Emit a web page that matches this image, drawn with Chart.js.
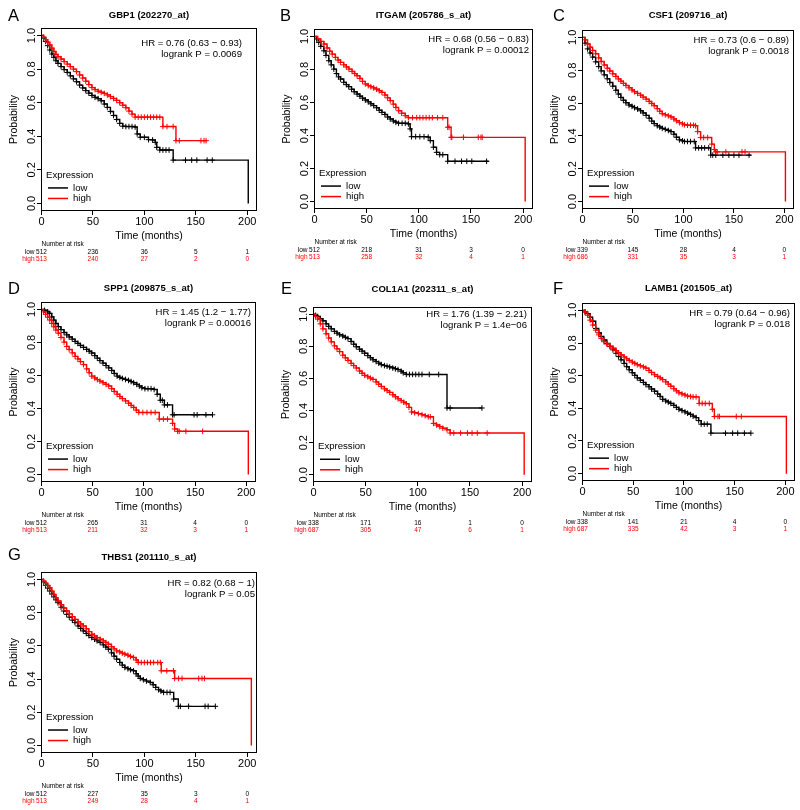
<!DOCTYPE html>
<html>
<head>
<meta charset="utf-8">
<script src="https://cdn.jsdelivr.net/npm/chart.js@4"></script>
<style>
  body { margin: 0; background: #fff; width: 800px; height: 810px; position: relative; overflow: hidden; }
  canvas { position: absolute; }
</style>
</head>
<body>
<script>
// axis ticks
const timeTicks = [0, 50, 100, 150, 200];
const probTicks = [0, 0.2, 0.4, 0.6, 0.8, 1.0];

// survival curves: [months, probability, censor mark]
const gbp1Low = [[0,1],[2,.985,1],[4,.965,1],[6,.94,1],[8,.914,1],[10,.89,1],[12,.87,1],[14,.85,1],[16,.834,1],[19,.815,1],[22,.797,1],[25,.78,1],[28,.76,1],[31,.742,1],[34,.725,1],[37,.705,1],[40,.688,1],[43,.672,1],[46,.657,1],[49,.643,1],[52,.632,1],[55,.624,1],[58,.612,1],[61,.592,1],[64,.572,1],[67,.548,1],[70,.524,1],[73,.5,1],[76,.477,1],[79,.46,1],[82,.458,1],[85,.458,1],[88,.458,1],[91,.455,1],[93,.414,1],[96,.394,1],[100,.394,1],[104,.38,1],[108,.378,1],[110.6,.364,1],[112,.334,1],[115,.318,1],[118,.318,1],[121,.318,1],[124,.318,1],[128,.258,1],[140,.258,1],[146,.258,1],[151,.258,1],[161,.258,1],[166,.258,1],[201,0]];
const gbp1High = [[0,1],[2,.99,1],[4,.975,1],[6,.96,1],[8,.944,1],[10,.925,1],[12,.905,1],[14,.888,1],[16,.874,1],[19,.86,1],[22,.845,1],[25,.83,1],[28,.815,1],[31,.8,1],[34,.785,1],[37,.765,1],[40,.747,1],[43,.728,1],[46,.708,1],[49,.69,1],[52,.678,1],[55,.668,1],[58,.662,1],[61,.655,1],[64,.646,1],[67,.636,1],[70,.625,1],[73,.614,1],[76,.6,1],[79,.585,1],[82,.57,1],[85,.55,1],[88,.532,1],[91,.514,1],[94,.514,1],[97,.514,1],[100,.514,1],[103,.514,1],[106,.514,1],[109,.514,1],[112,.514,1],[115,.514,1],[118,.458,1],[122,.458,1],[128,.458,1],[130.7,.374,1],[134,.374,1],[155,.374,1],[158,.374,1],[160,.374,1]];
const itgamLow = [[0,1],[2,.985,1],[4,.964,1],[6,.94,1],[9,.913,1],[11,.885,1],[13.7,.853,1],[16,.828,1],[18.5,.802,1],[21,.775,1],[23,.755,1],[25,.742,1],[28,.722,1],[30.5,.708,1],[32.8,.696,1],[35.5,.68,1],[38,.665,1],[40.8,.651,1],[43.5,.638,1],[46,.626,1],[48.7,.615,1],[51.5,.604,1],[54,.592,1],[56.7,.581,1],[59.5,.568,1],[62,.553,1],[64.6,.54,1],[67.5,.527,1],[70,.512,1],[72.6,.5,1],[75.5,.488,1],[78,.48,1],[80.6,.474,1],[84,.474,1],[87,.474,1],[90,.47,1],[91.7,.44,1],[93,.393,1],[97,.393,1],[101,.393,1],[105,.393,1],[109,.39,1],[111,.369,1],[114,.329,1],[117,.298,1],[120,.284,1],[123,.284,1],[127.7,.244,1],[134.7,.244,1],[141,.244,1],[146,.244,1],[150.8,.244,1],[165,.244,1],[167,.244]];
const itgamHigh = [[0,1],[3,.985,1],[6,.97,1],[9,.954,1],[12,.93,1],[14.5,.91,1],[17,.893,1],[20,.873,1],[22.5,.857,1],[25,.843,1],[28,.828,1],[30.5,.815,1],[33,.802,1],[36,.788,1],[38.5,.775,1],[40.8,.762,1],[43.5,.745,1],[46,.728,1],[48.7,.712,1],[51.5,.702,1],[54,.695,1],[56.7,.688,1],[59.5,.68,1],[62,.671,1],[64.6,.661,1],[67.5,.645,1],[70,.628,1],[72.6,.611,1],[75.5,.59,1],[78,.57,1],[80.6,.55,1],[83.5,.535,1],[87,.52,1],[90,.508,1],[94,.508,1],[98,.508,1],[101,.508,1],[104,.508,1],[107,.508,1],[110,.508,1],[113,.508,1],[118,.508,1],[123,.508,1],[127.7,.45,1],[129,.45,1],[131,.389,1],[131.7,.389,1],[142.8,.389,1],[157,.389,1],[159.6,.389,1],[160.8,.389,1],[202,0]];
const csf1Low = [[0,1],[2.5,.965,1],[5,.93,1],[7.5,.905,1],[10,.88,1],[13,.851,1],[16,.822,1],[18.5,.796,1],[21.5,.772,1],[24.5,.748,1],[27,.725,1],[30,.703,1],[33,.678,1],[35.5,.655,1],[38,.634,1],[40.5,.617,1],[43,.602,1],[46,.588,1],[49,.58,1],[51.5,.572,1],[54.5,.564,1],[57.5,.553,1],[60,.54,1],[63,.525,1],[66,.508,1],[68.5,.49,1],[71,.475,1],[74,.462,1],[76.5,.454,1],[79,.446,1],[82,.44,1],[85,.433,1],[87.6,.426,1],[90.5,.41,1],[93,.392,1],[96,.376,1],[99,.37,1],[101,.366,1],[104,.366,1],[107,.366,1],[110.7,.366,1],[112,.327,1],[115,.327,1],[118,.327,1],[121,.327,1],[125,.327,1],[127,.283,1],[129,.283,1],[132,.283,1],[139,.283,1],[145,.283,1],[150,.283,1],[155,.283,1],[165,.283,1],[167,.283]];
const csf1High = [[0,1],[2.5,.985,1],[5,.96,1],[7.5,.94,1],[10,.92,1],[13,.9,1],[16,.875,1],[18.5,.853,1],[21.5,.832,1],[24.5,.812,1],[27,.795,1],[30,.778,1],[33,.762,1],[35.5,.747,1],[38,.733,1],[40.5,.72,1],[43,.707,1],[46,.693,1],[49,.68,1],[51.5,.669,1],[54.5,.659,1],[57.5,.648,1],[60,.636,1],[63,.624,1],[66,.61,1],[68.5,.597,1],[71,.584,1],[74,.566,1],[76.5,.55,1],[79,.535,1],[82,.528,1],[85,.522,1],[87.6,.515,1],[90.5,.503,1],[93,.492,1],[96,.481,1],[99,.473,1],[101,.468,1],[104,.465,1],[107,.465,1],[110,.465,1],[112,.462,1],[114,.426,1],[117,.39,1],[120,.39,1],[124,.39,1],[128,.35,1],[130.6,.317,1],[132,.303,1],[133.5,.303,1],[142,.303,1],[158,.303,1],[161,.303,1],[201,0]];
const spp1Low = [[0,1],[3,.995,1],[6,.985,1],[8,.976,1],[10,.955,1],[12,.935,1],[14,.915,1],[16.4,.896,1],[19,.878,1],[22,.86,1],[24.6,.846,1],[27,.833,1],[30,.82,1],[32.8,.806,1],[35.5,.794,1],[38,.782,1],[41,.77,1],[44,.758,1],[46.5,.747,1],[49,.736,1],[52,.72,1],[54.5,.705,1],[57,.69,1],[60,.675,1],[63,.66,1],[65.6,.646,1],[68.5,.63,1],[71,.612,1],[73.8,.596,1],[76.5,.588,1],[79,.582,1],[82,.576,1],[85,.57,1],[87.5,.563,1],[90,.556,1],[93,.546,1],[95.5,.536,1],[98,.526,1],[101,.52,1],[104,.52,1],[107,.52,1],[110,.515,1],[113,.486,1],[116,.45,1],[118,.45,1],[120,.422,1],[123,.422,1],[128,.362,1],[129.5,.362,1],[149,.362,1],[152,.362,1],[160.6,.362,1],[167,.362,1]];
const spp1High = [[0,1],[2,.985,1],[4,.97,1],[6,.953,1],[8,.936,1],[10,.915,1],[12,.895,1],[14,.875,1],[16.4,.856,1],[19,.83,1],[22,.802,1],[24.6,.776,1],[27,.757,1],[30,.737,1],[32.8,.716,1],[35.5,.7,1],[38,.684,1],[41,.666,1],[44,.64,1],[46.5,.617,1],[49,.596,1],[52,.585,1],[54.5,.575,1],[57,.566,1],[60,.556,1],[63,.546,1],[65.6,.536,1],[68.5,.52,1],[71,.503,1],[73.8,.486,1],[76.5,.472,1],[79,.46,1],[82,.446,1],[85,.432,1],[87.5,.418,1],[90,.406,1],[92.5,.39,1],[95,.376,1],[99,.376,1],[103,.376,1],[107,.376,1],[111,.376,1],[115,.336,1],[119,.336,1],[123,.336,1],[128,.31,1],[130,.276,1],[133,.262,1],[134.5,.262,1],[141,.262,1],[157.4,.262,1],[202,0]];
const col1a1Low = [[0,1],[2,.993,1],[4,.986,1],[6.5,.972,1],[9,.959,1],[12,.94,1],[14.5,.924,1],[17,.909,1],[20,.893,1],[22.5,.882,1],[25,.872,1],[28,.864,1],[30.5,.856,1],[33,.848,1],[36,.83,1],[38.5,.813,1],[41,.797,1],[44,.782,1],[46.5,.77,1],[49,.757,1],[52,.742,1],[54.5,.729,1],[57,.716,1],[60,.705,1],[62.5,.695,1],[65,.686,1],[68,.68,1],[70.5,.676,1],[73,.671,1],[76,.665,1],[78.5,.66,1],[81,.655,1],[84,.645,1],[86,.635,1],[89,.625,1],[92,.625,1],[95,.625,1],[98,.625,1],[101,.625,1],[104,.625,1],[111,.625,1],[120,.625,1],[128,.416,1],[131,.416,1],[161.5,.416,1]];
const col1a1High = [[0,1],[2,.985,1],[4,.97,1],[6.5,.94,1],[9,.909,1],[12,.878,1],[14.5,.852,1],[17,.828,1],[20,.803,1],[22.5,.784,1],[25,.767,1],[28,.745,1],[30.5,.728,1],[33,.712,1],[36,.694,1],[38.5,.68,1],[41,.665,1],[44,.646,1],[46.5,.632,1],[49,.619,1],[52,.61,1],[54.5,.602,1],[57,.594,1],[60,.578,1],[62.5,.564,1],[65,.55,1],[68,.535,1],[70.5,.524,1],[73,.513,1],[76,.498,1],[78.5,.486,1],[81,.473,1],[84,.462,1],[86.5,.452,1],[89,.442,1],[91.5,.42,1],[94,.391,1],[97,.386,1],[100.5,.381,1],[104,.374,1],[107,.368,1],[110,.361,1],[112,.361,1],[115,.32,1],[118,.31,1],[121,.3,1],[124,.29,1],[128,.28,1],[131,.26,1],[134.5,.26,1],[141,.26,1],[147.6,.26,1],[152,.26,1],[157,.26,1],[166.5,.26,1],[202,0]];
const lamb1Low = [[0,1],[2.5,.99,1],[5,.98,1],[7.5,.958,1],[10,.933,1],[13,.889,1],[16,.862,1],[18.5,.84,1],[21,.818,1],[24,.797,1],[27,.778,1],[30,.758,1],[33,.737,1],[35.5,.717,1],[38,.697,1],[41,.675,1],[43.5,.655,1],[46,.636,1],[49,.618,1],[51.5,.602,1],[54,.586,1],[57,.572,1],[60,.558,1],[62.5,.545,1],[65.5,.532,1],[68,.518,1],[71,.505,1],[74,.488,1],[76.5,.472,1],[79,.455,1],[82,.445,1],[84.5,.438,1],[87,.43,1],[90,.418,1],[92.5,.406,1],[95,.394,1],[98,.386,1],[101,.378,1],[103.6,.37,1],[106.5,.362,1],[109,.352,1],[112,.343,1],[114.5,.325,1],[117,.303,1],[120,.303,1],[123,.303,1],[126.6,.248,1],[141,.248,1],[148,.248,1],[153,.248,1],[159.6,.248,1],[166,.248,1]];
const lamb1High = [[0,1],[2.5,.99,1],[5,.97,1],[7.5,.94,1],[10,.91,1],[13,.879,1],[16,.85,1],[18.5,.828,1],[21,.808,1],[24,.794,1],[27,.781,1],[30,.768,1],[33,.753,1],[35.5,.74,1],[38,.727,1],[41,.714,1],[43.5,.703,1],[46,.693,1],[49,.683,1],[51.5,.675,1],[54,.667,1],[57,.66,1],[60,.653,1],[62.5,.646,1],[65.5,.632,1],[68,.619,1],[71,.606,1],[74,.595,1],[76.5,.586,1],[79,.576,1],[82,.562,1],[84.5,.548,1],[87,.535,1],[90,.52,1],[92.5,.507,1],[95,.495,1],[98,.488,1],[101,.481,1],[103.6,.475,1],[106.5,.472,1],[109,.47,1],[112,.47,1],[115,.43,1],[118,.43,1],[121,.43,1],[125,.43,1],[128,.394,1],[130,.35,1],[133.5,.35,1],[135,.35,1],[151.6,.35,1],[156.6,.35,1],[201,0]];
const thbs1Low = [[0,1],[2,.985,1],[4,.965,1],[6,.948,1],[8,.93,1],[10,.912,1],[12,.895,1],[14,.877,1],[16,.86,1],[19,.833,1],[21.5,.81,1],[24.4,.79,1],[27,.773,1],[30,.755,1],[32.5,.74,1],[35.5,.72,1],[38,.705,1],[40.6,.69,1],[43.5,.675,1],[46,.662,1],[48.8,.65,1],[51.5,.64,1],[54,.63,1],[57,.62,1],[60,.606,1],[62.5,.593,1],[65,.58,1],[68,.558,1],[70.5,.538,1],[73,.52,1],[76,.5,1],[78.5,.484,1],[81,.47,1],[84,.462,1],[86.5,.456,1],[89.4,.45,1],[92,.432,1],[94,.418,1],[96,.404,1],[99,.396,1],[102,.388,1],[105.7,.38,1],[108.5,.366,1],[111,.35,1],[113.8,.336,1],[116,.328,1],[118.7,.32,1],[122,.32,1],[125,.32,1],[128.5,.28,1],[133,.236,1],[135,.236,1],[143,.236,1],[159,.236,1],[162,.236,1],[169,.236,1]];
const thbs1High = [[0,1],[2,.99,1],[4,.977,1],[6,.964,1],[8,.95,1],[10,.93,1],[12,.91,1],[14,.89,1],[16,.87,1],[19,.848,1],[21.5,.828,1],[24.4,.81,1],[27,.793,1],[30,.776,1],[32.5,.76,1],[35.5,.745,1],[38,.732,1],[40.6,.72,1],[43.5,.703,1],[46,.686,1],[48.8,.67,1],[51.5,.66,1],[54,.65,1],[57,.64,1],[60,.63,1],[62.5,.62,1],[65,.61,1],[68,.595,1],[70.5,.582,1],[73,.57,1],[76,.563,1],[78.5,.556,1],[81,.55,1],[84,.543,1],[86.5,.536,1],[89.4,.53,1],[92,.515,1],[94,.5,1],[97,.5,1],[100,.5,1],[103,.5,1],[106,.5,1],[109,.5,1],[113,.5,1],[115.5,.5,1],[116.4,.45,1],[121.8,.45,1],[128.3,.45,1],[129.4,.404,1],[133.3,.404,1],[136.6,.404,1],[152.8,.404,1],[156,.404,1],[158.4,.404,1],[204,0]];

// number at risk (at 0, 50, 100, 150, 200 months)
const gbp1RiskLow = [512, 236, 36, 5, 1],   gbp1RiskHigh = [513, 240, 27, 2, 0];
const itgamRiskLow = [512, 218, 31, 3, 0],  itgamRiskHigh = [513, 258, 32, 4, 1];
const csf1RiskLow = [339, 145, 28, 4, 0],   csf1RiskHigh = [686, 331, 35, 3, 1];
const spp1RiskLow = [512, 265, 31, 4, 0],   spp1RiskHigh = [513, 211, 32, 3, 1];
const col1a1RiskLow = [338, 171, 16, 1, 0], col1a1RiskHigh = [687, 305, 47, 6, 1];
const lamb1RiskLow = [338, 141, 21, 4, 0],  lamb1RiskHigh = [687, 335, 42, 3, 1];
const thbs1RiskLow = [512, 227, 35, 3, 0],  thbs1RiskHigh = [513, 249, 28, 4, 1];

const FONT = '"Liberation Sans", Arial, Helvetica, sans-serif';
Chart.defaults.font.family = FONT;
Chart.defaults.color = '#000';

// cell = canvas [x, y, w, h], box = plot frame [left, top, right, bottom], page pixels
const panels = [
  { letter: 'A', title: 'GBP1 (202270_at)', hr: 'HR = 0.76 (0.63 \u2212 0.93)', p: 'logrank P = 0.0069',
    low: gbp1Low, high: gbp1High, riskLow: gbp1RiskLow, riskHigh: gbp1RiskHigh,
    cell: [0, 0, 268, 272], box: [41, 28, 257, 211], hrDx: 15, hrDy: 15, letterPos: [8, 21], titleY: 15 },
  { letter: 'B', title: 'ITGAM (205786_s_at)', hr: 'HR = 0.68 (0.56 \u2212 0.83)', p: 'logrank P = 0.00012',
    low: itgamLow, high: itgamHigh, riskLow: itgamRiskLow, riskHigh: itgamRiskHigh,
    cell: [268, 0, 270, 272], box: [314, 29, 533, 209], hrDx: 4, hrDy: 10, letterPos: [280, 21], titleY: 15 },
  { letter: 'C', title: 'CSF1 (209716_at)', hr: 'HR = 0.73 (0.6 \u2212 0.89)', p: 'logrank P = 0.0018',
    low: csf1Low, high: csf1High, riskLow: csf1RiskLow, riskHigh: csf1RiskHigh,
    cell: [538, 0, 262, 272], box: [582, 30, 794, 209], hrDx: 5, hrDy: 10, letterPos: [553, 21], titleY: 15 },
  { letter: 'D', title: 'SPP1 (209875_s_at)', hr: 'HR = 1.45 (1.2 \u2212 1.77)', p: 'logrank P = 0.00016',
    low: spp1Low, high: spp1High, riskLow: spp1RiskLow, riskHigh: spp1RiskHigh,
    cell: [0, 272, 268, 268], box: [41, 302, 256, 482], hrDx: 5, hrDy: 10, letterPos: [8, 293.5], titleY: 288 },
  { letter: 'E', title: 'COL1A1 (202311_s_at)', hr: 'HR = 1.76 (1.39 \u2212 2.21)', p: 'logrank P = 1.4e\u221206',
    low: col1a1Low, high: col1a1High, riskLow: col1a1RiskLow, riskHigh: col1a1RiskHigh,
    cell: [268, 272, 270, 268], box: [313, 307, 532, 482], hrDx: 5, hrDy: 7, letterPos: [281, 293.5], titleY: 289 },
  { letter: 'F', title: 'LAMB1 (201505_at)', hr: 'HR = 0.79 (0.64 \u2212 0.96)', p: 'logrank P = 0.018',
    low: lamb1Low, high: lamb1High, riskLow: lamb1RiskLow, riskHigh: lamb1RiskHigh,
    cell: [538, 272, 262, 268], box: [582, 303, 795, 481], hrDx: 5, hrDy: 10, letterPos: [553, 293.5], titleY: 288 },
  { letter: 'G', title: 'THBS1 (201110_s_at)', hr: 'HR = 0.82 (0.68 \u2212 1)', p: 'logrank P = 0.05',
    low: thbs1Low, high: thbs1High, riskLow: thbs1RiskLow, riskHigh: thbs1RiskHigh,
    cell: [0, 540, 268, 270], box: [41, 572, 257, 753], hrDx: 2, hrDy: 11, letterPos: [8, 560], titleY: 557 }
];

const toPts = arr => arr.map(q => ({ x: q[0], y: q[1], c: q[2] || 0 }));

function curve(label, arr, color, order) {
  return {
    label, data: toPts(arr), order,
    borderColor: color, borderWidth: 1.4, stepped: 'before', fill: false,
    pointStyle: 'cross', pointBorderColor: color, pointBorderWidth: 1,
    pointRadius: ctx => (ctx.raw && ctx.raw.c) ? 2.8 : 0,
    pointHoverRadius: 0, pointHitRadius: 0
  };
}

function panelText(p) {
  const [cx, cy] = p.cell;
  return {
    id: 'panelText',
    afterDraw(chart) {
      const ctx = chart.ctx, ca = chart.chartArea;
      const xs = chart.scales.x, ys = chart.scales.y;
      ctx.save();
      // frame
      ctx.strokeStyle = '#000';
      ctx.lineWidth = 1;
      ctx.strokeRect(Math.round(ca.left) + 0.5, Math.round(ca.top) + 0.5,
        Math.round(ca.right - ca.left) - 1, Math.round(ca.bottom - ca.top) - 1);

      ctx.fillStyle = '#000';
      // panel letter
      ctx.font = '16.5px ' + FONT;
      ctx.textAlign = 'left';
      ctx.textBaseline = 'alphabetic';
      ctx.fillText(p.letter, p.letterPos[0] - cx, p.letterPos[1] - cy);

      // gene title
      ctx.font = 'bold 9.5px ' + FONT;
      ctx.textAlign = 'center';
      ctx.textBaseline = 'middle';
      ctx.fillText(p.title, (ca.left + ca.right) / 2, p.titleY - cy);

      // HR / logrank
      ctx.font = '9.6px ' + FONT;
      ctx.textAlign = 'right';
      ctx.fillText(p.hr, ca.right - p.hrDx, ca.top + p.hrDy);
      ctx.fillText(p.p, ca.right - p.hrDx, ca.top + p.hrDy + 11.5);

      // legend
      const y0 = ys.getPixelForValue(0);
      ctx.font = '9.6px ' + FONT;
      ctx.textAlign = 'left';
      ctx.fillText('Expression', ca.left + 5, y0 - 28);
      [['low', '#000', y0 - 15.5], ['high', '#ff0000', y0 - 5]].forEach(([t, col, y]) => {
        ctx.strokeStyle = col;
        ctx.lineWidth = 1.5;
        ctx.beginPath();
        ctx.moveTo(ca.left + 7, y);
        ctx.lineTo(ca.left + 27, y);
        ctx.stroke();
        ctx.fillStyle = '#000';
        ctx.fillText(t, ca.left + 32, y);
      });

      // number at risk
      const x0 = xs.getPixelForValue(0);
      ctx.font = '6.5px ' + FONT;
      ctx.textAlign = 'left';
      ctx.fillText('Number at risk', x0, ca.bottom + 33);
      [['low', p.riskLow, '#000', ca.bottom + 41], ['high', p.riskHigh, '#ff0000', ca.bottom + 48.5]].forEach(([t, vals, col, y]) => {
        ctx.fillStyle = col;
        ctx.textAlign = 'right';
        ctx.fillText(t, x0 - 7, y);
        ctx.textAlign = 'center';
        vals.forEach((v, i) => ctx.fillText(String(v), xs.getPixelForValue(timeTicks[i]), y));
      });
      ctx.restore();
    }
  };
}

panels.forEach(p => {
  const [cx, cy, cw, ch] = p.cell;
  const [bl, bt, br, bb] = p.box;
  const cv = document.createElement('canvas');
  cv.width = cw; cv.height = ch;
  cv.style.left = cx + 'px'; cv.style.top = cy + 'px';
  document.body.appendChild(cv);

  new Chart(cv, {
    type: 'line',
    data: { datasets: [curve('low', p.low, '#000000', 2), curve('high', p.high, '#ff0000', 1)] },
    options: {
      responsive: false, animation: false, devicePixelRatio: 1, events: [],
      layout: { padding: { left: bl - 41 - cx, top: bt - cy, right: cx + cw - br, bottom: cy + ch - bb - 32 } },
      plugins: { legend: { display: false }, tooltip: { enabled: false } },
      scales: {
        x: {
          type: 'linear', min: -0.5, max: 209.5,
          afterBuildTicks: s => { s.ticks = timeTicks.map(v => ({ value: v })); },
          afterFit: s => { s.height = 32; },
          grid: { display: true, drawOnChartArea: false, drawTicks: true, tickLength: 4, color: '#000' },
          border: { display: false },
          ticks: { autoSkip: false, maxRotation: 0, padding: 0, font: { size: 11 }, color: '#000' },
          title: { display: true, text: 'Time (months)', font: { size: 10.5 }, padding: { top: 0, bottom: 1 } }
        },
        y: {
          type: 'linear', min: -0.045, max: 1.045,
          afterBuildTicks: s => { s.ticks = probTicks.map(v => ({ value: v })); },
          afterFit: s => { s.width = 41; },
          grid: { display: true, drawOnChartArea: false, drawTicks: true, tickLength: 4, color: '#000' },
          border: { display: false },
          ticks: { minRotation: 90, maxRotation: 90, crossAlign: 'center', padding: -3,
                   font: { size: 11 }, color: '#000', callback: v => v.toFixed(1) },
          title: { display: true, text: 'Probability', font: { size: 10.5 }, padding: { top: 8, bottom: 0 } }
        }
      }
    },
    plugins: [panelText(p)]
  });
});
</script>
</body>
</html>
